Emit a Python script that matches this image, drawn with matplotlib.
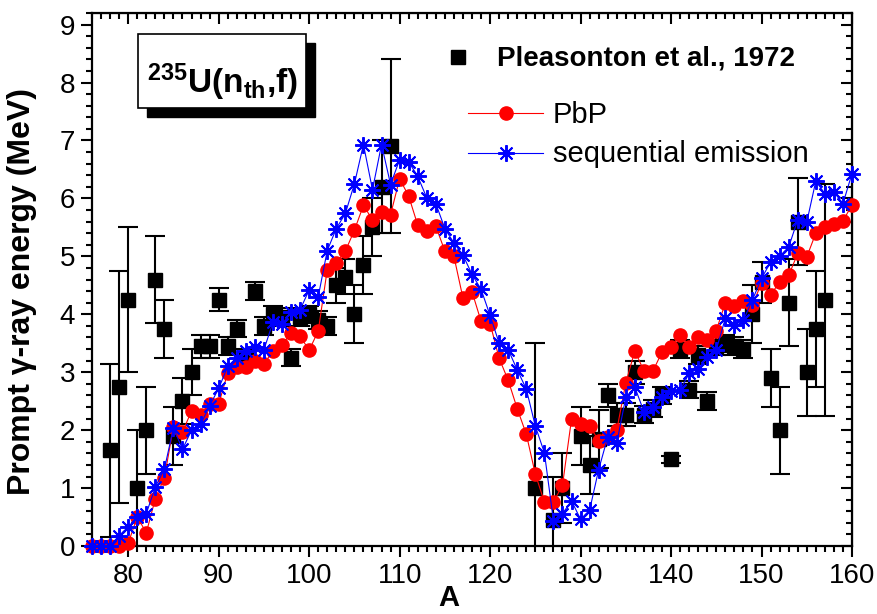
import matplotlib
matplotlib.use('Agg')
import matplotlib.pyplot as plt
from matplotlib.ticker import MultipleLocator
from matplotlib.patches import Rectangle
from matplotlib.lines import Line2D

plt.rcParams['font.family'] = ['Liberation Sans', 'DejaVu Sans']
plt.rcParams['mathtext.fontset'] = 'custom'
plt.rcParams['mathtext.rm'] = 'Liberation Sans:bold'
plt.rcParams['mathtext.bf'] = 'Liberation Sans:bold'
plt.rcParams['mathtext.it'] = 'Liberation Sans:bold'
plt.rcParams['mathtext.default'] = 'bf'

# ---------------- data ----------------
mass_pbp = list(range(76, 161))
energy_pbp = [0, 0, 0, 0, 0.05, 0.5, 0.23, 0.82, 1.18, 2.06,
              1.97, 2.33, 2.26, 2.45, 2.45, 2.99, 3.09, 3.09, 3.2, 3.14,
              3.37, 3.47, 3.68, 3.62, 3.38, 3.71, 4.77, 4.89, 5.09, 5.45,
              5.88, 5.63, 5.76, 5.72, 6.34, 6.04, 5.54, 5.43, 5.52, 5.09,
              5.0, 4.28, 4.39, 3.88, 3.84, 3.24, 2.86, 2.37, 1.93, 1.24,
              0.76, 0.76, 1.05, 2.19, 2.1, 2.07, 1.82, 1.88, 2.0, 2.82,
              3.37, 3.02, 3.02, 3.35, 3.44, 3.64, 3.44, 3.6, 3.56, 3.72,
              4.2, 4.14, 4.23, 4.16, 4.54, 4.33, 4.56, 4.67, 5.05, 4.99,
              5.4, 5.51, 5.56, 5.61, 5.89]

mass_seq = list(range(76, 161))
energy_seq = [0, 0, 0, 0.18, 0.33, 0.5, 0.56, 1.02, 1.33, 2.04,
              1.67, 2.0, 2.1, 2.42, 2.72, 3.1, 3.25, 3.37, 3.44, 3.39,
              3.86, 3.83, 4.04, 4.08, 4.42, 4.3, 5.1, 5.48, 5.74, 6.25,
              6.93, 6.15, 6.93, 6.24, 6.67, 6.63, 6.38, 6.01, 5.91, 5.48,
              5.23, 5.02, 4.69, 4.43, 3.98, 3.5, 3.39, 3.04, 2.71, 2.07,
              1.61, 0.44, 0.56, 0.78, 0.46, 0.62, 1.32, 1.88, 1.78, 2.57,
              2.74, 2.32, 2.4, 2.58, 2.68, 2.69, 2.98, 3.06, 3.26, 3.39,
              3.93, 3.81, 3.9, 4.25, 4.62, 4.9, 5.0, 5.16, 5.63, 5.59,
              6.3, 6.08, 6.11, 5.91, 6.43]

mass_exp = [78, 79, 80, 81, 82, 83, 84, 85, 86, 87, 88, 89, 90, 91, 92, 93, 94, 95,
            96, 97, 98, 99, 100, 101, 102, 103, 104, 105, 106, 107, 108, 109,
            125, 127, 128, 130, 131, 132, 133, 134, 135, 136, 137, 138, 139, 140,
            141, 142, 143, 144, 145, 146, 147, 148, 149, 150, 151, 152, 153, 154,
            155, 156, 157]
energy_exp = [1.65, 2.75, 4.25, 1.0, 2.0, 4.6, 3.75, 1.9, 2.5, 3.0, 3.45, 3.45, 4.25,
              3.45, 3.75, 3.25, 4.4, 3.8, 4.0, 3.95, 3.25, 3.95, 4.0, 3.9, 3.8, 4.5,
              4.65, 4.0, 4.85, 5.5, 6.2, 6.9,
              1.0, 0.45, 1.0, 1.9, 1.4, 1.85, 2.6, 2.27, 2.27, 3.0, 2.27, 2.37, 2.6,
              1.5, 3.4, 2.7, 3.3, 2.5, 3.45, 3.5, 3.45, 3.4, 4.0, 4.55, 2.9, 2.0,
              4.2, 5.6, 3.0, 3.75, 4.25]
err_exp = [1.5, 2.0, 1.25, 1.0, 0.75, 0.75, 0.5, 0.5, 0.4, 0.4, 0.2, 0.2, 0.2,
           0.15, 0.15, 0.15, 0.15, 0.15, 0.15, 0.15, 0.15, 0.15, 0.15, 0.15, 0.15, 0.3,
           0.3, 0.5, 0.5, 0.5, 0.8, 1.5,
           2.5, 0.75, 0.6, 0.5, 0.5, 0.5, 0.2, 0.2, 0.2, 0.2, 0.15, 0.15, 0.15,
           0.06, 0.15, 0.15, 0.15, 0.15, 0.15, 0.15, 0.15, 0.15, 0.5, 0.35, 0.5, 0.75,
           0.75, 0.75, 0.75, 1.0, 2.0]

label_exp = 'Pleasonton et al., 1972'
label_pbp = 'PbP'
label_seq = 'sequential emission'

# ---------------- figure ----------------
fig = plt.figure(figsize=(8.78, 6.14), dpi=100)
ax = fig.add_axes([0.1048, 0.1107, 0.8656, 0.8681])

ax.errorbar(mass_exp, energy_exp, yerr=err_exp, fmt='s', color='black', ms=9.5,
            capsize=7, elinewidth=1.5, capthick=1.5, zorder=3)
star = (8, 2, 0)
ax.plot(mass_pbp, energy_pbp, '-', color='red', lw=0.8, marker='o', ms=9.5,
        mfc='red', mec='red', zorder=4, clip_on=False)
ax.plot(mass_seq, energy_seq, '-', color='blue', lw=0.8, marker=star, ms=12,
        mec='blue', mew=1.4, zorder=5, clip_on=False)

ax.set_xlim(76, 160)
ax.set_ylim(0, 9.2)
ax.xaxis.set_major_locator(MultipleLocator(10))
ax.xaxis.set_minor_locator(MultipleLocator(1))
ax.yaxis.set_major_locator(MultipleLocator(1))
ax.yaxis.set_minor_locator(MultipleLocator(0.2))
ax.tick_params(which='both', direction='out', width=1.5, labelsize=20, pad=4)
ax.tick_params(which='major', length=8)
ax.tick_params(which='minor', length=4)
for s in ax.spines.values():
    s.set_linewidth(1.6)

secx = ax.secondary_xaxis('top')
secx.xaxis.set_major_locator(MultipleLocator(10))
secx.xaxis.set_minor_locator(MultipleLocator(1))
secx.tick_params(which='both', direction='in', width=1.5, labeltop=False)
secx.tick_params(which='major', length=8)
secx.tick_params(which='minor', length=4)
secy = ax.secondary_yaxis('right')
secy.yaxis.set_major_locator(MultipleLocator(1))
secy.yaxis.set_minor_locator(MultipleLocator(0.2))
secy.tick_params(which='both', direction='in', width=1.5, labelright=False)
secy.tick_params(which='major', length=8)
secy.tick_params(which='minor', length=4)

ax.set_xlabel('A', fontsize=21, fontweight='bold')
ax.xaxis.set_label_coords(0.47, -0.072)
ax.set_ylabel('Prompt γ-ray energy (MeV)', fontsize=23, fontweight='bold')
ax.yaxis.set_label_coords(-0.072, 0.478)

# title box with shadow
bx, by, bw, bh = 0.0605, 0.8218, 0.2211, 0.1388
ax.add_patch(Rectangle((bx + 0.0118, by - 0.0169), bw, bh, transform=ax.transAxes,
                       facecolor='black', edgecolor='black', zorder=6, clip_on=False))
ax.add_patch(Rectangle((bx, by), bw, bh, transform=ax.transAxes,
                       facecolor='white', edgecolor='black', lw=1.2, zorder=7, clip_on=False))
ax.text(0.171, 0.8705, r'$^{235}$U(n$_{th}$,f)', transform=ax.transAxes,
        fontsize=24, fontweight='bold', ha='center', va='center', zorder=8)

# legend (manual)
ax.add_line(Line2D([0.4816], [0.9174], transform=ax.transAxes, marker='s', ms=9.5,
                   color='black', ls='none', zorder=8))
ax.text(0.5329, 0.9006, label_exp, transform=ax.transAxes, fontsize=20,
        fontweight='bold', ha='left', va='baseline')
ax.add_line(Line2D([0.4947, 0.5934], [0.8124, 0.8124], transform=ax.transAxes,
                   color='red', lw=0.8, zorder=8))
ax.add_line(Line2D([0.5447], [0.8124], transform=ax.transAxes, marker='o', ms=9.5,
                   color='red', ls='none', zorder=8))
ax.text(0.6066, 0.7931, label_pbp, transform=ax.transAxes, fontsize=21,
        ha='left', va='baseline')
ax.add_line(Line2D([0.4947, 0.5934], [0.7373, 0.7373], transform=ax.transAxes,
                   color='blue', lw=0.8, zorder=8))
ax.add_line(Line2D([0.5447], [0.7373], transform=ax.transAxes, marker=star, ms=12,
                   mew=1.4, color='blue', ls='none', zorder=8))
ax.text(0.6066, 0.7210, label_seq, transform=ax.transAxes, fontsize=21,
        ha='left', va='baseline')

fig.savefig('out.png', dpi=100)
